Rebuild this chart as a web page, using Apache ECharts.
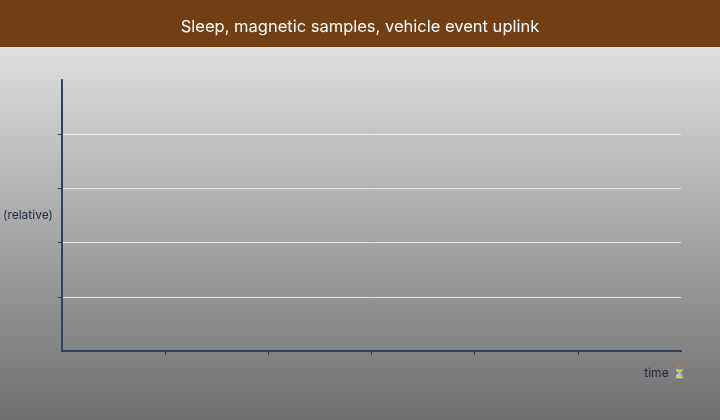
<!DOCTYPE html>
<html><head><meta charset="utf-8">
<script src="https://cdn.jsdelivr.net/npm/echarts@6/dist/echarts.min.js"></script>
<style>html,body{margin:0;padding:0;}#c{width:720px;height:420px;}</style>
</head><body><div id="c"></div>
<script>
const titleText = 'Sleep, magnetic samples, vehicle event uplink';
const xName = 'time ⏳';
const yName = '(relative)';
const xRange = [0, 6];
const yRange = [0, 5];
const xTicks = [1, 2, 3, 4, 5];
const yTicks = [1, 2, 3, 4];
const seriesValues = [];

const chart = echarts.init(document.getElementById('c'));
chart.setOption({
  animation: false,
  backgroundColor: {
    type: 'linear', x: 0, y: 0, x2: 0, y2: 1,
    colorStops: [{offset: 0, color: '#ededed'}, {offset: 1, color: '#6e6e6e'}]
  },
  graphic: [{
    type: 'rect', left: 0, top: 0, z: -1,
    shape: {width: 720, height: 47},
    style: {fill: '#723f14'}
  }],
  title: {
    text: titleText, left: 'center', top: 14,
    textStyle: {color: '#ffffff', fontSize: 16.5, fontWeight: 'normal', fontFamily: 'Inter'}
  },
  grid: {left: 61, right: 39, top: 80, bottom: 69, containLabel: false},
  xAxis: {
    type: 'value', min: xRange[0], max: xRange[1], interval: 1,
    name: xName, nameLocation: 'end', nameGap: 6,
    nameTextStyle: {color: '#1e293b', fontSize: 12, fontFamily: 'Inter', align: 'right', verticalAlign: 'top', padding: [16, 0, 0, 0]},
    axisLine: {show: true, lineStyle: {color: '#334155', width: 2}},
    axisTick: {show: true, length: 4, customValues: xTicks, lineStyle: {color: '#334155', width: 1}},
    axisLabel: {show: false},
    splitLine: {show: false}
  },
  yAxis: {
    type: 'value', min: yRange[0], max: yRange[1], interval: 1,
    name: yName, nameLocation: 'middle', nameRotate: 0, nameGap: 9,
    nameTextStyle: {color: '#1e293b', fontSize: 12, fontFamily: 'Inter', align: 'right'},
    axisLine: {show: true, lineStyle: {color: '#334155', width: 2}},
    axisTick: {show: true, length: 4, customValues: yTicks, lineStyle: {color: '#334155', width: 1}},
    axisLabel: {show: false},
    splitLine: {show: true, lineStyle: {color: '#e2e8f0', width: 1}}
  },
  series: [{type: 'line', data: seriesValues}]
});
</script></body></html>
